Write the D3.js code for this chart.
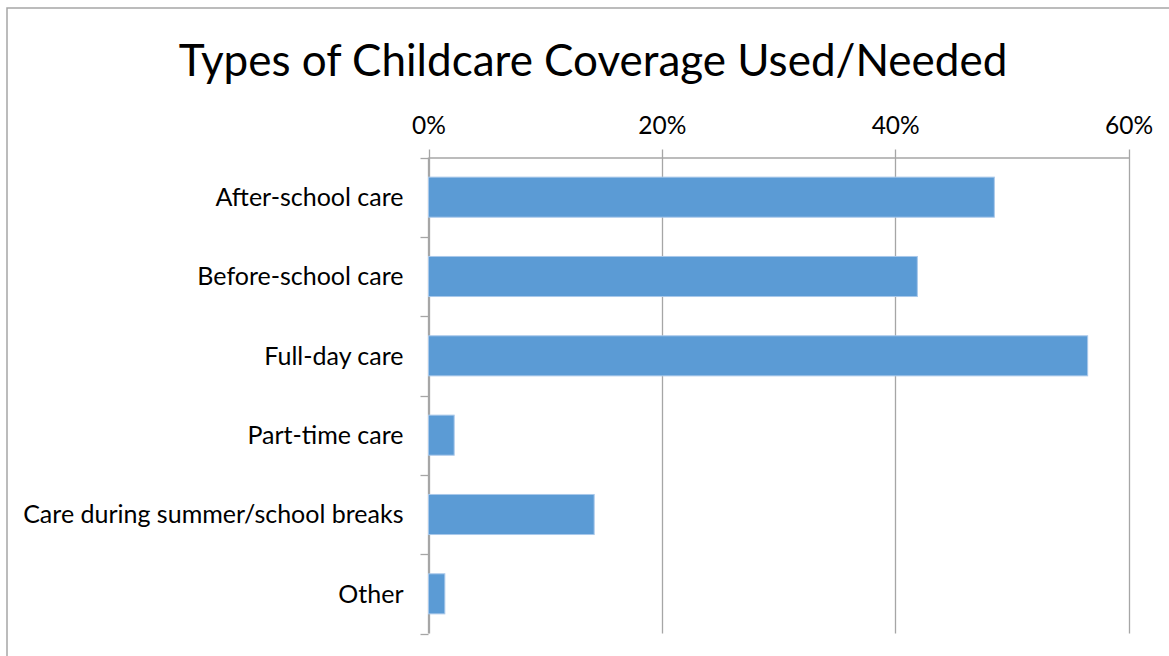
<!DOCTYPE html>
<html>
<head>
<meta charset="utf-8">
<script src="https://cdn.jsdelivr.net/npm/d3@7"></script>
<style>
  html, body { margin: 0; padding: 0; background: #fff; }
  svg { display: block; font-family: Lato, "Liberation Sans", sans-serif; }
</style>
</head>
<body>
<svg id="chart" width="1169" height="656"></svg>
<script>
// Survey results: share of respondents by type of childcare coverage
const categories = [
  "After-school care",
  "Before-school care",
  "Full-day care",
  "Part-time care",
  "Care during summer/school breaks",
  "Other"
];
const shares = [48.5, 41.9, 56.5, 2.2, 14.2, 1.4];
const tickValues = [0, 20, 40, 60];
const chartTitle = "Types of Childcare Coverage Used/Needed";

const data = categories.map((c, i) => ({ category: c, value: shares[i] }));

const FONT = "Lato, 'Liberation Sans', sans-serif";
const svg = d3.select("#chart");
const W = 1169, H = 656;
const plot = { left: 428.5, right: 1128.5, top: 157.5, bottom: 633.5 };

// chart frame
svg.append("rect")
  .attr("x", 7).attr("y", 8)
  .attr("width", W + 20).attr("height", H + 20)
  .attr("fill", "#fff")
  .attr("stroke", "#a6a6a6").attr("stroke-width", 1.5);

const x = d3.scaleLinear().domain([0, 60]).range([plot.left, plot.right]);
const y = d3.scaleBand().domain(categories).range([plot.top, plot.bottom]).paddingInner(0.495).paddingOuter(0.2475);

// vertical gridlines
svg.append("g")
  .selectAll("line")
  .data(tickValues)
  .join("line")
  .attr("x1", d => Math.round(x(d)) + 0.5).attr("x2", d => Math.round(x(d)) + 0.5)
  .attr("y1", plot.top - 8).attr("y2", plot.bottom)
  .attr("stroke", "#a6a6a6").attr("stroke-width", 1.3);

// top value axis
const xAxis = svg.append("g")
  .attr("transform", `translate(0,${plot.top})`)
  .call(d3.axisTop(x).tickValues(tickValues).tickFormat(d => d + "%").tickSize(0).tickPadding(24));
xAxis.attr("font-family", FONT);
xAxis.select(".domain").attr("stroke", "#a6a6a6").attr("stroke-width", 1.3);
xAxis.selectAll("text").attr("font-size", 24.5).attr("fill", "#000");

// left category axis with boundary ticks between bands
const boundaries = d3.range(categories.length + 1).map(i => plot.top + i * (plot.bottom - plot.top) / categories.length);
svg.append("line")
  .attr("x1", plot.left).attr("x2", plot.left)
  .attr("y1", plot.top).attr("y2", plot.bottom)
  .attr("stroke", "#a6a6a6").attr("stroke-width", 1.3);
svg.append("g")
  .selectAll("line")
  .data(boundaries)
  .join("line")
  .attr("x1", plot.left - 8).attr("x2", plot.left)
  .attr("y1", d => Math.round(d) + 0.5).attr("y2", d => Math.round(d) + 0.5)
  .attr("stroke", "#a6a6a6").attr("stroke-width", 1.3);

svg.append("g")
  .selectAll("text")
  .data(categories)
  .join("text")
  .attr("x", plot.left - 25)
  .attr("y", d => y(d) + y.bandwidth() / 2)
  .attr("dy", "0.35em")
  .attr("text-anchor", "end")
  .attr("font-size", 25)
  .attr("fill", "#000")
  .text(d => d);

// bars
svg.append("g")
  .selectAll("rect")
  .data(data)
  .join("rect")
  .attr("x", x(0))
  .attr("y", d => y(d.category))
  .attr("width", d => x(d.value) - x(0))
  .attr("height", y.bandwidth())
  .attr("fill", "#5b9bd5")
  .attr("stroke", "#a9c8ea")
  .attr("stroke-width", 1);

// title
svg.append("text")
  .attr("x", 593).attr("y", 76)
  .attr("text-anchor", "middle")
  .attr("font-size", 44)
  .attr("fill", "#000")
  .text(chartTitle);
</script>
</body>
</html>
